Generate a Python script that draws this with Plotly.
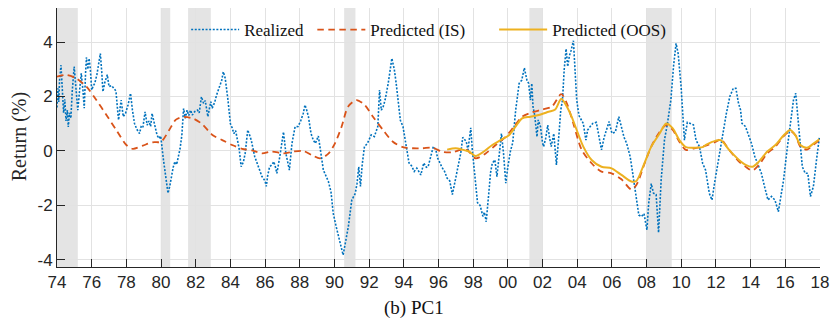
import plotly.graph_objects as go

# ---------------- data ----------------
realized_t = [1974.00,1974.05,1974.10,1974.15,1974.23,1974.30,1974.38,1974.45,1974.52,1974.60,1974.65,1974.72,1974.80,1974.88,1974.99,
1975.08,1975.20,1975.30,1975.40,1975.50,1975.57,1975.65,1975.70,1975.78,1975.85,1975.92,1976.00,1976.10,1976.18,1976.30,1976.42,
1976.50,1976.58,1976.65,1976.75,1976.90,1977.00,1977.15,1977.28,1977.40,1977.48,1977.55,1977.62,1977.70,1977.82,1977.95,1978.10,
1978.24,1978.35,1978.47,1978.60,1978.76,1978.85,1978.95,1979.08,1979.20,1979.30,1979.40,1979.48,1979.58,1979.65,1979.77,1979.88,
1979.98,1980.14,1980.25,1980.40,1980.50,1980.60,1980.70,1980.80,1980.90,1981.00,1981.10,1981.20,1981.30,1981.40,1981.50,1981.60,
1981.70,1981.80,1981.95,1982.10,1982.20,1982.33,1982.45,1982.55,1982.70,1982.80,1982.87,1982.95,1983.10,1983.20,1983.40,1983.50,
1983.59,1983.70,1983.86,1984.00,1984.10,1984.20,1984.30,1984.39,1984.50,1984.62,1984.75,1984.85,1985.00,1985.10,1985.20,1985.40,
1985.55,1985.70,1985.82,1986.00,1986.07,1986.15,1986.26,1986.40,1986.50,1986.60,1986.68,1986.85,1987.06,1987.20,1987.40,1987.55,
1987.73,1987.90,1988.05,1988.20,1988.30,1988.40,1988.50,1988.65,1988.78,1988.90,1989.07,1989.20,1989.36,1989.50,1989.65,1989.80,
1989.93,1990.10,1990.30,1990.50,1990.65,1990.80,1991.00,1991.20,1991.30,1991.40,1991.50,1991.60,1991.73,1991.90,1992.12,1992.30,
1992.50,1992.60,1992.70,1992.80,1992.92,1993.10,1993.31,1993.45,1993.56,1993.70,1993.80,1993.95,1994.10,1994.30,1994.45,1994.60,
1994.75,1994.85,1994.98,1995.15,1995.30,1995.40,1995.55,1995.70,1995.85,1995.95,1996.20,1996.35,1996.50,1996.65,1996.80,1996.95,
1997.10,1997.28,1997.40,1997.47,1997.60,1997.70,1997.86,1997.95,1998.05,1998.14,1998.25,1998.40,1998.50,1998.56,1998.65,1998.75,
1998.90,1999.00,1999.10,1999.25,1999.37,1999.50,1999.63,1999.75,1999.88,2000.00,2000.15,2000.28,2000.45,2000.65,2000.80,2000.95,
2001.10,2001.20,2001.30,2001.38,2001.45,2001.55,2001.68,2001.75,2001.88,2002.00,2002.06,2002.18,2002.30,2002.40,2002.50,2002.65,
2002.80,2002.95,2003.05,2003.15,2003.25,2003.36,2003.45,2003.55,2003.65,2003.78,2003.85,2003.97,2004.10,2004.20,2004.35,2004.50,
2004.60,2004.75,2004.90,2005.10,2005.25,2005.40,2005.55,2005.70,2005.84,2006.00,2006.20,2006.40,2006.55,2006.70,2006.85,2007.05,
2007.20,2007.40,2007.55,2007.70,2007.85,2008.02,2008.12,2008.27,2008.40,2008.55,2008.69,2008.84,2009.03,2009.20,2009.40,2009.55,
2009.70,2009.82,2009.99,2010.18,2010.35,2010.57,2010.70,2010.85,2011.05,2011.23,2011.40,2011.62,2011.77,2011.95,2012.20,2012.40,
2012.60,2012.80,2013.00,2013.15,2013.30,2013.42,2013.50,2013.70,2013.85,2014.05,2014.24,2014.45,2014.62,2014.80,2015.00,2015.20,
2015.40,2015.60,2015.78,2015.90,2016.10,2016.28,2016.47,2016.60,2016.78,2016.98,2017.15,2017.30,2017.45,2017.62,2017.80,2017.97]

realized_v = [1.6,2.3,1.8,2.6,3.15,2.2,1.4,1.9,1.1,1.5,0.88,1.4,1.2,2.2,3.1,
2.4,1.5,2.2,2.85,2.2,1.57,2.9,3.44,3.0,3.4,3.03,2.24,2.4,2.49,2.8,3.3,
3.58,2.9,2.18,2.5,2.8,2.36,2.4,2.3,2.2,1.6,1.14,1.5,1.87,1.26,1.38,1.7,
2.12,1.5,1.01,0.8,0.64,0.89,0.85,1.44,0.95,1.1,0.9,1.38,1.1,0.89,0.58,0.46,
0.55,-0.33,-0.8,-1.55,-1.3,-0.94,-0.6,-0.39,-0.5,-0.2,0.1,0.58,1.56,1.2,1.5,1.3,
1.5,1.32,1.45,1.5,1.4,1.99,1.75,1.85,1.26,1.6,1.81,1.57,1.8,2.05,2.48,2.6,
2.91,2.67,1.87,1.0,0.85,0.64,0.75,0.46,0.1,-0.58,-0.4,-0.09,0.77,0.6,0.4,-0.2,
-0.45,-0.7,-0.94,-1.1,-1.3,-0.9,-0.58,-0.5,-0.39,-0.6,-0.82,-0.2,0.7,-0.09,-0.7,0.28,
0.89,0.9,1.1,1.38,1.69,1.5,1.26,0.64,0.4,0.28,0.55,0.0,-0.7,-0.9,-1.12,-1.5,
-2.29,-2.78,-3.3,-3.82,-3.3,-2.78,-1.8,-1.56,-1.2,-0.58,-1.3,-0.5,0.16,0.28,0.59,0.53,
0.9,2.24,1.5,1.6,1.87,2.48,3.4,3.0,2.48,1.6,1.13,0.9,0.28,-0.44,-0.55,-0.75,
-0.63,-0.75,-0.88,-0.44,-0.6,-0.58,-0.2,0.16,0.04,-0.26,-0.6,-0.75,-1.0,-1.1,-1.6,-1.1,
-0.6,-0.09,0.5,0.46,0.35,0.04,0.85,0.04,-0.6,-0.94,-1.9,-2.0,-2.3,-2.4,-2.25,-2.6,
-1.55,-0.8,-0.45,-0.33,-0.94,-0.2,0.64,-0.09,-1.18,-0.58,0.0,0.3,1.5,2.48,2.6,3.05,
2.6,2.48,1.87,2.48,1.63,1.3,0.52,1.14,0.9,0.3,0.16,0.46,0.95,0.5,0.16,0.64,
-0.51,0.64,1.5,1.87,3.0,3.75,3.1,3.5,3.7,4.05,3.1,1.87,1.3,1.2,1.01,0.4,
0.77,0.9,1.01,1.05,0.5,0.04,0.5,0.8,1.08,0.65,0.7,1.26,0.9,0.5,0.28,-0.2,
-0.82,-1.67,-2.35,-2.41,-2.3,-2.9,-1.92,-1.2,-1.55,-1.6,-3.0,-1.06,0.4,1.0,1.87,3.09,
3.95,3.58,2.36,0.4,1.05,1.0,0.96,0.4,0.16,-0.45,-0.7,-1.56,-1.8,-1.06,-0.09,0.65,
1.38,2.0,2.3,2.3,1.75,1.5,1.01,0.9,0.65,0.28,-0.2,-0.58,-0.82,-1.3,-1.8,-1.67,
-1.8,-2.23,-1.56,-1.06,0.04,0.9,1.87,2.12,0.9,-0.58,-0.82,-0.82,-1.67,-1.3,-0.32,0.53]

is_t = [1974.0,1974.55,1975.1,1975.7,1976.27,1976.85,1977.42,1978.0,1978.37,1978.95,1979.52,1980.0,1980.47,1980.86,1981.33,
1981.9,1982.38,1982.96,1983.53,1984.1,1984.68,1985.25,1985.82,1986.4,1987.07,1987.64,1988.2,1988.69,1989.17,1989.65,1990.03,
1990.41,1990.79,1991.27,1991.74,1992.22,1992.8,1993.37,1993.94,1994.51,1995.08,1995.66,1996.23,1996.8,1997.28,1997.67,1998.14,
1998.72,1999.3,1999.87,2000.35,2000.82,2001.4,2001.97,2002.54,2003.08,2003.4,2003.78,2004.26,2004.83,2005.4,2005.98,2006.55,
2007.12,2007.41,2007.89,2008.27,2008.75,2009.13,2009.51,2009.89,2010.27,2010.75,2011.42,2011.99,2012.28,2012.76,2013.33,2013.71,
2014.1,2014.48,2014.96,2015.43,2015.91,2016.29,2016.58,2016.87,2017.25,2017.64,2017.96]
is_v = [2.73,2.79,2.67,2.36,1.87,1.32,0.77,0.22,0.08,0.2,0.32,0.34,0.77,1.15,1.25,
1.18,0.98,0.59,0.4,0.22,0.08,0.02,-0.09,-0.02,-0.09,-0.02,0.0,-0.15,-0.27,-0.1,0.28,
0.89,1.63,1.87,1.69,1.26,0.77,0.34,0.14,0.1,0.1,0.12,-0.03,-0.05,0.04,0.02,-0.27,
-0.09,0.22,0.52,0.89,1.26,1.42,1.52,1.63,2.09,1.75,1.0,0.04,-0.45,-0.76,-0.82,-1.04,
-1.41,-1.25,-0.45,0.16,0.7,0.95,0.77,0.34,0.04,0.1,0.2,0.34,0.43,0.04,-0.39,-0.58,
-0.72,-0.51,-0.09,0.16,0.55,0.72,0.58,0.16,0.05,0.24,0.4]

oos_t = [1996.5,1996.99,1997.37,1997.76,1998.14,1998.62,1999.1,1999.58,2000.06,2000.44,2000.82,2001.3,2001.78,2002.35,2002.73,
2003.08,2003.4,2003.68,2003.97,2004.35,2004.83,2005.4,2005.98,2006.55,2007.12,2007.41,2007.79,2008.27,2008.75,2009.13,2009.51,
2009.89,2010.27,2010.75,2011.22,2011.42,2011.99,2012.28,2012.76,2013.33,2013.71,2014.1,2014.48,2014.96,2015.43,2015.91,2016.29,
2016.58,2016.87,2017.25,2017.64,2017.96]
oos_v = [0.05,0.1,0.05,-0.02,-0.18,-0.02,0.22,0.4,0.58,0.89,1.2,1.26,1.32,1.44,1.52,
1.92,1.63,1.25,0.77,0.16,-0.33,-0.58,-0.64,-0.88,-1.12,-1.1,-0.58,0.16,0.64,1.01,0.83,
0.4,0.14,0.12,0.14,0.22,0.38,0.4,0.04,-0.33,-0.51,-0.58,-0.39,-0.02,0.22,0.58,0.77,
0.58,0.22,0.12,0.28,0.43]

recession_start = [1974.0, 1979.98, 1981.56, 1990.56, 2001.24, 2008.02]
recession_end = [1975.2, 1980.53, 1982.87, 1991.21, 2001.97, 2009.45]

x_tick_vals = list(range(1974, 2019, 2))
x_tick_text = ["74","76","78","80","82","84","86","88","90","92","94","96","98",
               "00","02","04","06","08","10","12","14","16","18"]
y_tick_vals = [-4, -2, 0, 2, 4]
y_tick_text = ["-4", "-2", "0", "2", "4"]

# ---------------- figure ----------------
W, H = 837, 329
ML, MR, MT, MB = 57, 12, 8, 62
pw = W - ML - MR
ph = H - MT - MB

def px2paper_x(px):
    return (px - ML) / pw

def px2paper_y(py):
    return (H - MB - py) / ph

fig = go.Figure()

for s, e in zip(recession_start, recession_end):
    fig.add_vrect(x0=s, x1=e, fillcolor="#e4e4e4", line_width=0, layer="below")

serif = "Liberation Serif"
sans = "Liberation Sans"

fig.add_trace(go.Scatter(x=realized_t, y=realized_v, mode="lines", name="Realized",
                         line=dict(color="#0072BD", width=1.6, dash="2px,1.6px"), legend="legend"))
fig.add_trace(go.Scatter(x=is_t, y=is_v, mode="lines", name="Predicted (IS)",
                         line=dict(color="#D95319", width=1.8, dash="6.5px,4.5px", shape="spline", smoothing=0.8),
                         legend="legend2"))
fig.add_trace(go.Scatter(x=oos_t, y=oos_v, mode="lines", name="Predicted (OOS)",
                         line=dict(color="#EDB120", width=2, shape="spline", smoothing=0.8),
                         legend="legend3"))

leg_common = dict(orientation="h", bgcolor="rgba(0,0,0,0)", borderwidth=0,
                  font=dict(family=serif, size=17, color="#111111"), itemwidth=48,
                  yanchor="middle", xanchor="left", y=px2paper_y(30))

fig.update_layout(
    width=W, height=H,
    margin=dict(l=ML, r=MR, t=MT, b=MB),
    paper_bgcolor="white", plot_bgcolor="white",
    showlegend=True,
    legend=dict(**leg_common, x=px2paper_x(187)),
    legend2=dict(**leg_common, x=px2paper_x(314)),
    legend3=dict(**leg_common, x=px2paper_x(497)),
    xaxis=dict(range=[1974, 2018], tickvals=x_tick_vals, ticktext=x_tick_text,
               showgrid=True, gridcolor="#e2e2e2", gridwidth=1, zeroline=False,
               showline=True, linecolor="#262626", linewidth=1,
               ticks="inside", ticklen=8, tickcolor="#262626",
               tickfont=dict(family=sans, size=17, color="#262626")),
    yaxis=dict(range=[-4.26, 5.25], tickvals=y_tick_vals, ticktext=y_tick_text,
               showgrid=True, gridcolor="#e2e2e2", gridwidth=1, zeroline=False,
               showline=True, linecolor="#262626", linewidth=1,
               ticks="inside", ticklen=8, tickcolor="#262626",
               tickfont=dict(family=sans, size=17, color="#262626")),
    annotations=[
        dict(text="Return (%)", textangle=-90, x=px2paper_x(19), y=px2paper_y(137),
             xref="paper", yref="paper", showarrow=False, xanchor="center", yanchor="middle",
             font=dict(family=serif, size=20, color="#262626")),
        dict(text="(b) PC1", x=px2paper_x(416), y=px2paper_y(308),
             xref="paper", yref="paper", showarrow=False, xanchor="center", yanchor="middle",
             font=dict(family=serif, size=19, color="#111111")),
    ],
)

fig.write_html("out.html", config={"displayModeBar": False},
               post_script="document.body.style.margin='0px';")
